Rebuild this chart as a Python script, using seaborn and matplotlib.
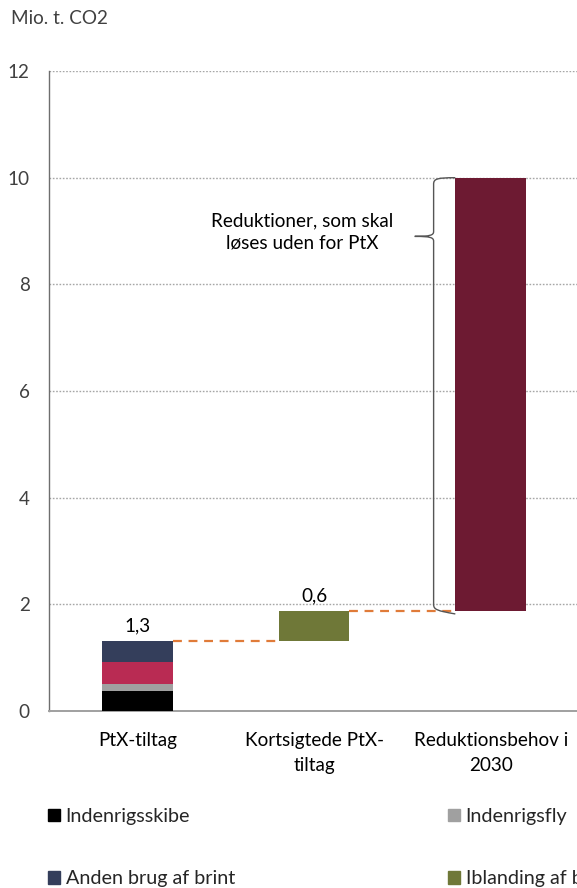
import matplotlib
matplotlib.use("Agg")
import matplotlib.pyplot as plt
from matplotlib.path import Path
from matplotlib.patches import PathPatch, Patch
from matplotlib.ticker import FixedLocator
import seaborn as sns
import pandas as pd

# Categories on the x axis
categories = ["PtX-tiltag", "Kortsigtede PtX-\ntiltag", "Reduktionsbehov i\n2030"]

# Stacked PtX measures (Mio. t. CO2)
ptx_labels = ["Indenrigsskibe", "Indenrigsfly", "Vejtransport", "Anden brug af brint"]
ptx_values = [0.38, 0.13, 0.41, 0.40]
ptx_colors = ["#000000", "#A0A0A0", "#B92B53", "#343E5B"]

# Short-term PtX measure
short_label = "Iblanding af brint"
short_value = 0.56
short_color = "#6F7838"

# Total reduction need in 2030
total_need = 10.0
need_color = "#6D1A32"

y_ticks = [0, 2, 4, 6, 8, 10, 12]

sns.set_theme(style="white")
plt.rcParams["font.family"] = ["Lato", "DejaVu Sans"]

FS = 13.6

fig = plt.figure(figsize=(5.77, 8.88), dpi=100)
ax = fig.add_axes([0.0849, 0.1993, 0.9186, 0.7207])

bar_w = 0.40


def seg(cat, height, bottom, color):
    df = pd.DataFrame({"cat": [cat], "val": [height]})
    sns.barplot(data=df, x="cat", y="val", order=categories, color=color,
                width=bar_w, bottom=bottom, saturation=1, ax=ax,
                linewidth=0, zorder=3)


# Stacked first bar
base = 0.0
for v, c in zip(ptx_values, ptx_colors):
    seg(categories[0], v, base, c)
    base += v
ptx_total = base

# Floating second bar
seg(categories[1], short_value, ptx_total, short_color)
short_top = ptx_total + short_value

# Floating third bar
seg(categories[2], total_need - short_top, short_top, need_color)

# Value labels
ax.text(0, ptx_total + 0.12, f"{ptx_total:.1f}".replace(".", ","),
        ha="center", va="bottom", fontsize=FS, color="#000000")
ax.text(1, short_top + 0.12, f"{short_value:.1f}".replace(".", ","),
        ha="center", va="bottom", fontsize=FS, color="#000000")

# Connector lines between bars
dash_kw = dict(color="#E07B39", lw=1.6, ls=(0, (4, 3)), zorder=4)
ax.plot([0 + bar_w / 2, 1 - bar_w / 2], [ptx_total, ptx_total], **dash_kw)
ax.plot([1 + bar_w / 2, 2 - bar_w / 2], [short_top, short_top], **dash_kw)

# Curly brace spanning the remaining reduction need
xr = 2 - bar_w / 2
xv = 1.677
xt = 1.57
y0, y1 = short_top, total_need
ym = 8.9
c = 0.06
verts = [
    (xr, y1), (xv + 0.02, y1), (xv, y1 - 0.02), (xv, y1 - c * 2),
    (xv, ym + c * 1.5),
    (xv, ym + 0.02), (xv - 0.02, ym), (xt, ym),
    (xv - 0.02, ym), (xv, ym - 0.02), (xv, ym - c * 1.5),
    (xv, y0 + c * 2),
    (xv, y0 + 0.02), (xv + 0.02, y0), (xr, y0 - 0.06),
]
codes = [Path.MOVETO, Path.CURVE4, Path.CURVE4, Path.CURVE4,
         Path.LINETO,
         Path.CURVE4, Path.CURVE4, Path.CURVE4,
         Path.CURVE4, Path.CURVE4, Path.CURVE4,
         Path.LINETO,
         Path.CURVE4, Path.CURVE4, Path.CURVE4]
ax.add_patch(PathPatch(Path(verts, codes), fill=False, edgecolor="#555555",
                       lw=1.0, zorder=4))
ax.text(0.935, 8.99, "Reduktioner, som skal\nløses uden for PtX",
        ha="center", va="center", fontsize=FS, linespacing=1.35,
        color="#000000")

# Axes styling
ax.set_xlim(-0.5, 2.5)
ax.set_ylim(0, 12)
ax.set_yticks(y_ticks)
ax.set_yticklabels([str(t) for t in y_ticks])
ax.set_xlabel("")
ax.set_ylabel("")
ax.yaxis.grid(True, color="#A6A6A6", ls=(0, (1.2, 1.2)), lw=1.0, zorder=0)
ax.xaxis.grid(False)
ax.set_axisbelow(True)
for s in ["top", "right"]:
    ax.spines[s].set_visible(False)
ax.spines["left"].set_color("#6E6E6E")
ax.spines["left"].set_linewidth(1.0)
ax.spines["bottom"].set_color("#A0A0A0")
ax.spines["bottom"].set_linewidth(1.4)
ax.tick_params(axis="y", length=0, pad=14, labelsize=FS, labelcolor="#404040")
ax.tick_params(axis="x", which="major", length=0, pad=15, labelsize=FS,
               labelcolor="#000000")
ax.xaxis.set_minor_locator(FixedLocator([0.5, 1.5]))
ax.tick_params(axis="x", which="minor", direction="in", length=5,
               width=1.0, color="#7F7F7F")
for lab in ax.get_xticklabels():
    lab.set_linespacing(1.6)

fig.text(0.019, 0.979, "Mio. t. CO2", ha="left", va="center", fontsize=FS,
         color="#404040")

# Legend (column-wise fill)
handles = [Patch(color=ptx_colors[0], label=ptx_labels[0]),
           Patch(color=ptx_colors[3], label=ptx_labels[3]),
           Patch(color=ptx_colors[1], label=ptx_labels[1]),
           Patch(color=short_color, label=short_label)]
fig.legend(handles=handles, ncol=2, loc="upper left",
           bbox_to_anchor=(0.083, 0.0900), bbox_transform=fig.transFigure,
           frameon=False, fontsize=14.2, handlelength=0.6, handleheight=0.6,
           handletextpad=0.3, labelspacing=2.3, columnspacing=10.8,
           borderaxespad=0, borderpad=0)

fig.savefig("out.png", dpi=100)
